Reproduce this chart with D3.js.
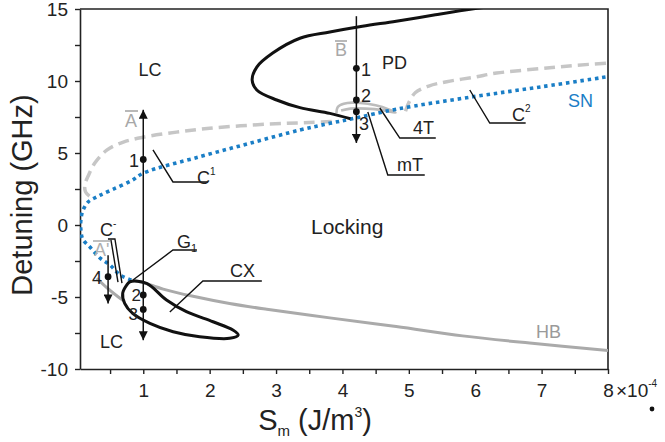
<!DOCTYPE html>
<html>
<head>
<meta charset="utf-8">
<script src="https://cdn.jsdelivr.net/npm/d3@7"></script>
<style>
  body { margin: 0; background: #fff; }
  svg { display: block; }
  text { font-family: "Liberation Sans", Arial, Helvetica, sans-serif; fill: #222; }
</style>
</head>
<body>
<svg id="chart" width="665" height="442"></svg>
<script>
// Axis ticks
const xTicks = [1, 2, 3, 4, 5, 6, 7, 8];
const xMinorTicks = [0.5, 1.5, 2.5, 3.5, 4.5, 5.5, 6.5, 7.5];
const yTicks = [-10, -5, 0, 5, 10, 15];
const yMinorTicks = [-7.5, -2.5, 2.5, 7.5, 12.5];

// Bifurcation curves: [S_m (x10^-4 J/m^3), detuning (GHz)]
const snCurve = [
  [0.82, -3.82], [0.65, -3.47], [0.5, -2.78], [0.35, -2.3], [0.2, -1.55],
  [0.09, -1.0], [0.06, -0.35], [0.06, 0.35], [0.09, 1.0], [0.17, 1.6],
  [0.32, 2.0], [0.53, 2.45], [0.83, 3.1], [1.0, 3.6], [1.85, 4.74],
  [2.6, 5.67], [3.36, 6.6], [3.81, 7.06], [4.2, 7.43], [4.82, 8.05],
  [5.96, 8.9], [7.0, 9.6], [8.0, 10.3]
];
const c1Curve = [
  [0.19, 2.0], [0.13, 2.3], [0.12, 2.8], [0.17, 3.4], [0.27, 4.3],
  [0.45, 5.2], [0.7, 5.76], [1.0, 6.1], [1.5, 6.45], [2.0, 6.72],
  [2.86, 7.0], [3.5, 7.12], [3.88, 7.2]
];
const c2Curve = [
  [4.95, 7.9], [5.0, 8.5], [5.1, 9.2], [5.3, 9.65], [5.57, 9.95],
  [6.0, 10.28], [6.32, 10.55], [7.08, 10.9], [7.5, 11.08], [8.0, 11.25]
];
const torusLoop = [
  [3.91, 7.76], [3.93, 8.2], [4.02, 8.42], [4.15, 8.5], [4.38, 8.42],
  [4.6, 8.2], [4.8, 7.8], [4.6, 7.98], [4.35, 8.08], [4.12, 8.08], [3.98, 7.95]
];
const pdCurve = [
  [4.12, 7.38], [3.81, 7.75], [3.36, 8.15], [3.01, 8.68], [2.71, 9.38],
  [2.64, 10.07], [2.71, 10.97], [2.95, 11.94], [3.36, 12.97], [3.81, 13.4],
  [4.3, 13.8], [4.81, 14.15], [5.4, 14.6], [5.95, 15.0], [6.2, 15.15]
];
const cxLoop = [
  [0.8, -3.94], [1.05, -4.05], [1.35, -5.21], [1.65, -6.02], [2.05, -6.72],
  [2.35, -7.29], [2.43, -7.64], [2.3, -7.87], [1.85, -7.76], [1.45, -7.41],
  [1.1, -6.83], [0.84, -6.14], [0.72, -5.44], [0.69, -4.74], [0.75, -4.17]
];
const hbUpper = [
  [0.85, -3.85], [1.0, -4.0], [1.3, -4.45], [1.75, -4.95], [2.3, -5.45],
  [2.86, -5.85], [3.81, -6.45], [4.81, -7.05], [5.81, -7.7], [6.82, -8.2],
  [8.0, -8.72]
];
const hbLower = [[0.3, -3.7], [0.45, -4.35], [0.62, -4.98], [0.7, -5.25]];

// Parameter sweeps (S_m, detuning range) and marked states
const sweepA = { s: 1.0, from: -8, to: 8 };
const sweepB = { s: 4.21, from: 14.5, to: 5.7 };
const sweepA2 = { s: 0.47, from: -2.1, to: -5.45 };
const statesA = [[1.0, 4.55], [1.0, -4.86], [1.0, -5.86]];
const statesB = [[4.21, 10.88], [4.21, 8.68], [4.21, 7.87]];
const statesA2 = [[0.47, -3.59]];

const svg = d3.select("#chart");
const pL = 80, pR = 608, pT = 9, pB = 369;
const x = d3.scaleLinear().domain([0.047, 8]).range([pL, pR]);
const y = d3.scaleLinear().domain([-10, 15]).range([pB, pT]);

const defs = svg.append("defs");
defs.append("clipPath").attr("id", "plot")
  .append("rect").attr("x", pL).attr("y", pT)
  .attr("width", pR - pL).attr("height", pB - pT);
defs.append("marker").attr("id", "head")
  .attr("viewBox", "0 0 10 10").attr("refX", 10).attr("refY", 5)
  .attr("markerWidth", 12).attr("markerHeight", 9)
  .attr("markerUnits", "userSpaceOnUse").attr("orient", "auto-start-reverse")
  .append("path").attr("d", "M0,0 L10,5 L0,10 Z").attr("fill", "#111");

// Axes
const axisX = svg.append("g").attr("transform", `translate(0,${pB})`)
  .call(d3.axisBottom(x).tickValues(xTicks).tickSize(5).tickSizeOuter(0).tickPadding(23)
    .tickFormat(d3.format("d")));
svg.append("g").attr("transform", `translate(0,${pB})`)
  .call(d3.axisBottom(x).tickValues(xMinorTicks).tickSize(5).tickFormat(""))
  .select(".domain").remove();
const axisY = svg.append("g").attr("transform", `translate(${pL},0)`)
  .call(d3.axisLeft(y).tickValues(yTicks).tickSize(5).tickSizeOuter(0).tickPadding(7)
    .tickFormat(d => d < 0 ? "-" + Math.abs(d) : d));
svg.append("g").attr("transform", `translate(${pL},0)`)
  .call(d3.axisLeft(y).tickValues(yMinorTicks).tickSize(5).tickFormat(""))
  .select(".domain").remove();
svg.selectAll(".domain").attr("stroke", "#222").attr("stroke-width", 1.6);
svg.selectAll(".tick line").attr("stroke", "#222").attr("stroke-width", 1.4);
svg.selectAll(".tick text").attr("font-size", 19).attr("fill", "#222")
  .attr("font-family", "Liberation Sans, Arial, sans-serif");
axisX.selectAll(".tick text").attr("dy", "0");

// Frame (top and right)
svg.append("path")
  .attr("d", `M${pL},${pT} H${pR} V${pB}`)
  .attr("fill", "none").attr("stroke", "#222").attr("stroke-width", 1.6);

// Axis titles
svg.append("text").attr("transform", `translate(32,${(pT + pB) / 2 + 6}) rotate(-90)`)
  .attr("text-anchor", "middle").attr("font-size", 29).text("Detuning (GHz)");
const xt = svg.append("text").attr("x", 315).attr("y", 430)
  .attr("text-anchor", "middle").attr("font-size", 29);
xt.append("tspan").text("S");
xt.append("tspan").attr("font-size", 15).attr("dy", 6).text("m");
xt.append("tspan").attr("dy", -6).text(" (J/m");
xt.append("tspan").attr("font-size", 14).attr("dy", -13).text("3");
xt.append("tspan").attr("dy", 13).text(")");

const xe = svg.append("text").attr("x", 616).attr("y", 397).attr("font-size", 19);
xe.append("tspan").text("\u00d710");
xe.append("tspan").attr("font-size", 10).attr("dy", -10).text("-4");
svg.append("circle").attr("cx", 652).attr("cy", 409).attr("r", 2.4).attr("fill", "#111");

// Curves
const plot = svg.append("g").attr("clip-path", "url(#plot)");
const smooth = d3.line().x(d => x(d[0])).y(d => y(d[1])).curve(d3.curveCatmullRom.alpha(0.5));
const closed = d3.line().x(d => x(d[0])).y(d => y(d[1])).curve(d3.curveCatmullRomClosed.alpha(0.5));

plot.append("path").attr("d", smooth(hbUpper)).attr("fill", "none")
  .attr("stroke", "#aaaaaa").attr("stroke-width", 3);
plot.append("path").attr("d", smooth(hbLower)).attr("fill", "none")
  .attr("stroke", "#aaaaaa").attr("stroke-width", 3);
plot.append("path").attr("d", smooth(c1Curve)).attr("fill", "none")
  .attr("stroke", "#c6c6c6").attr("stroke-width", 3.5).attr("stroke-dasharray", "11 6");
plot.append("path").attr("d", smooth(c2Curve)).attr("fill", "none")
  .attr("stroke", "#c6c6c6").attr("stroke-width", 3.5).attr("stroke-dasharray", "11 6");
plot.append("path").attr("d", smooth(torusLoop)).attr("fill", "none")
  .attr("stroke", "#bcbcbc").attr("stroke-width", 2.6);
plot.append("path").attr("d", smooth(snCurve)).attr("fill", "none")
  .attr("stroke", "#1a7ec6").attr("stroke-width", 3.6).attr("stroke-dasharray", "3.5 3.8");
plot.append("path").attr("d", smooth(pdCurve)).attr("fill", "none")
  .attr("stroke", "#111").attr("stroke-width", 3);
plot.append("path").attr("d", closed(cxLoop)).attr("fill", "none")
  .attr("stroke", "#111").attr("stroke-width", 3);

// Sweep arrows
function sweep(s, both) {
  const p = svg.append("line")
    .attr("x1", x(s.s)).attr("x2", x(s.s))
    .attr("y1", y(s.from)).attr("y2", y(s.to))
    .attr("stroke", "#111").attr("stroke-width", 1.5)
    .attr("marker-end", "url(#head)");
  if (both) p.attr("marker-start", "url(#head)");
}
sweep(sweepA, true);
sweep(sweepB, false);
sweep(sweepA2, false);

svg.selectAll("circle.state").data(statesA.concat(statesB, statesA2)).join("circle")
  .attr("class", "state").attr("cx", d => x(d[0])).attr("cy", d => y(d[1]))
  .attr("r", 3.4).attr("fill", "#111");

// Leader lines for curve labels
const leaders = [
  [[1.146, 5.21], [1.447, 2.99], [1.974, 2.99]],
  [[5.918, 9.375], [6.219, 7.083], [6.76, 7.083]],
  [[4.563, 8.125], [4.864, 6.04], [5.406, 6.04]],
  [[4.382, 7.85], [4.683, 3.47], [5.24, 3.47]],
  [[0.468, -0.97], [0.573, -0.97], [0.679, -4.03]],
  [[0.513, -1.04], [0.619, -3.96]],
  [[1.808, -1.74], [1.447, -1.74], [0.845, -3.82]],
  [[2.786, -3.89], [1.898, -3.89], [1.40, -6.04]]
];
const straight = d3.line().x(d => x(d[0])).y(d => y(d[1]));
svg.selectAll("path.leader").data(leaders).join("path")
  .attr("class", "leader").attr("d", straight)
  .attr("fill", "none").attr("stroke", "#111").attr("stroke-width", 1.4);

// Labels
function label(px, py, str, opts = {}) {
  const t = svg.append("text").attr("x", px).attr("y", py)
    .attr("font-size", opts.size || 18).attr("text-anchor", opts.anchor || "start")
    .style("fill", opts.color || "#222");
  t.append("tspan").text(str);
  if (opts.sup) t.append("tspan").attr("font-size", 10).attr("dy", -9).text(opts.sup);
  if (opts.sub) t.append("tspan").attr("font-size", 11).attr("dy", 4).text(opts.sub);
  return t;
}
function overline(x1, x2, yy, color) {
  svg.append("line").attr("x1", x1).attr("x2", x2).attr("y1", yy).attr("y2", yy)
    .attr("stroke", color).attr("stroke-width", 1.6);
}
label(150, 76, "LC", { anchor: "middle" });
label(382, 69, "PD");
label(568, 107, "SN", { color: "#1a7ec6" });
label(512, 121, "C", { sup: "2" });
label(413, 134, "4T");
label(397, 171, "mT");
label(197, 184, "C", { sup: "1" });
label(311, 234, "Locking", { size: 21 });
label(100, 236, "C", { sup: "-" });
label(177, 248, "G", { sub: "1" });
label(230, 277, "CX");
label(100, 348, "LC");
label(536, 338, "HB", { color: "#9a9a9a" });

// Sweep names
label(125, 127, "A", { color: "#a8a8a8" });
overline(125, 138, 111, "#a8a8a8");
label(335, 56, "B", { color: "#a8a8a8" });
overline(335, 347, 41, "#a8a8a8");
label(94, 256, "A'", { color: "#b0b0b0" });
overline(93, 110, 241, "#b0b0b0");

// State numbers
label(139, 167, "1", { anchor: "end" });
label(141, 301, "2", { anchor: "end", size: 17 });
label(138, 320, "3", { anchor: "end", size: 17 });
label(102, 284, "4", { anchor: "end" });
label(361, 76, "1");
label(361, 102, "2");
label(359, 130, "3");
</script>
</body>
</html>
